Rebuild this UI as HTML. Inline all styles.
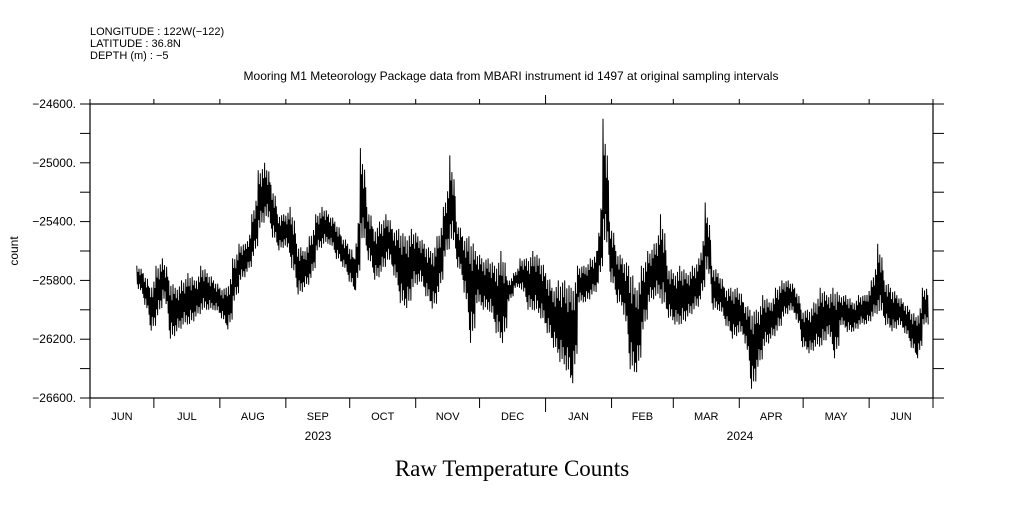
<!DOCTYPE html>
<html><head><meta charset="utf-8"><style>
body{margin:0;background:#fff;width:1009px;height:504px;overflow:hidden}
svg text{font-family:"Liberation Sans",sans-serif;fill:#000}
</style></head><body>
<svg id="chart" width="1009" height="504" viewBox="0 0 1009 504" xmlns="http://www.w3.org/2000/svg">
<g font-size="11">
<text x="90" y="35">LONGITUDE : 122W(−122)</text>
<text x="90" y="47">LATITUDE : 36.8N</text>
<text x="90" y="59">DEPTH (m) : −5</text>
</g>
<text x="511" y="80" text-anchor="middle" font-size="12">Mooring M1 Meteorology Package data from MBARI instrument id 1497 at original sampling intervals</text>
<text x="512" y="476" text-anchor="middle" font-size="23" style="font-family:'Liberation Serif',serif">Raw Temperature Counts</text>
<text transform="translate(18,251) rotate(-90)" text-anchor="middle" font-size="12">count</text>
<g id="axes"></g>
<g id="series"></g>
</svg>
<script>
const yTickValues=[-24600,-25000,-25400,-25800,-26200,-26600];
const monthLabels=["JUN","JUL","AUG","SEP","OCT","NOV","DEC","JAN","FEB","MAR","APR","MAY","JUN"];
const monthStartDays=[0,30,61,92,122,153,183,214,245,274,305,335,366,396];
const yearLabels=["2023","2024"];
const seriesStartDay=22;
const seriesStepDays=3;
const highValues=[-25700,-25750,-25850,-25700,-25650,-25800,-25850,-25800,-25750,-25800,-25700,-25750,-25800,-25850,-25850,-25650,-25550,-25550,-25350,-25050,-25000,-25150,-25350,-25350,-25300,-25550,-25600,-25500,-25350,-25300,-25350,-25400,-25500,-25550,-25650,-24900,-25300,-25450,-25400,-25350,-25450,-25450,-25500,-25450,-25500,-25550,-25600,-25500,-25300,-24950,-25400,-25500,-25500,-25600,-25650,-25650,-25700,-25600,-25800,-25750,-25650,-25650,-25600,-25650,-25750,-25850,-25800,-25800,-25850,-25700,-25700,-25650,-25600,-24700,-25400,-25600,-25650,-25700,-25850,-25700,-25600,-25550,-25350,-25700,-25750,-25700,-25750,-25700,-25650,-25270,-25700,-25750,-25850,-25850,-25850,-25950,-26000,-26000,-25900,-25950,-25850,-25800,-25800,-25850,-26000,-26000,-25950,-25850,-25900,-25850,-25900,-25900,-25950,-25900,-25900,-25800,-25550,-25800,-25850,-25900,-25950,-26000,-26050,-25850];
const lowValues=[-25850,-25950,-26150,-26050,-25900,-26200,-26150,-26100,-26100,-26050,-26000,-26000,-26000,-26050,-26150,-25950,-25800,-25750,-25650,-25450,-25350,-25500,-25600,-25550,-25700,-25900,-25850,-25800,-25600,-25550,-25550,-25650,-25700,-25800,-25900,-25500,-25650,-25800,-25750,-25650,-25750,-25950,-26000,-25850,-25800,-25900,-26000,-25900,-25650,-25500,-25700,-25850,-26250,-25950,-26000,-26000,-26150,-26250,-25950,-25850,-25850,-26000,-26000,-26050,-26150,-26250,-26350,-26400,-26550,-25950,-25950,-25900,-25850,-25500,-25800,-25950,-26000,-26400,-26450,-26150,-25950,-25900,-25950,-26050,-26100,-26100,-26050,-26000,-25950,-25700,-26000,-26000,-26100,-26200,-26150,-26200,-26550,-26400,-26250,-26200,-26150,-26050,-26000,-26050,-26250,-26300,-26250,-26250,-26150,-26350,-26100,-26150,-26150,-26100,-26100,-26050,-26000,-26100,-26150,-26100,-26150,-26250,-26350,-26100];

const L=90,R=933,T=104,B=398,Y0=-24600,Y1=-26600,D=396;
const xs=d=>L+(R-L)*d/D;
const ys=v=>T+(B-T)*(v-Y0)/(Y1-Y0);
const NS="http://www.w3.org/2000/svg";
const axes=document.getElementById('axes');
function mk(tag,attrs,parent){const e=document.createElementNS(NS,tag);for(const k in attrs)e.setAttribute(k,attrs[k]);parent.appendChild(e);return e;}
const frame=mk('rect',{x:L,y:T,width:R-L,height:B-T,fill:'none',stroke:'#000','stroke-width':1.2},axes);


for(let v=Y0;v>=Y1;v-=200){
  const y=ys(v);
  const t1=mk('line',{x1:L-10,x2:L,y1:y,y2:y,stroke:'#000'},axes);
  
  
  const t2=mk('line',{x1:R,x2:R+11,y1:y,y2:y,stroke:'#000'},axes);
  
  
}
yTickValues.forEach(v=>{
  const t=mk('text',{x:76,y:ys(v)+4,'text-anchor':'end','font-size':12},axes);
  t.textContent='−'+Math.abs(v)+'.';
  
  
});
monthStartDays.forEach((d,i)=>{
  const x=xs(d);const yr=(d===214);
  const b=mk('line',{x1:x,x2:x,y1:B,y2:B+(yr?14:10),stroke:'#000'},axes);
  
  
  const t=mk('line',{x1:x,x2:x,y1:T,y2:T-(yr?9:5),stroke:'#000'},axes);
  
  
});
monthLabels.forEach((m,i)=>{
  const x=(xs(monthStartDays[i])+xs(monthStartDays[i+1]))/2;
  const t=mk('text',{x:x,y:420,'text-anchor':'middle','font-size':11},axes);
  t.textContent=m;
  
  
});
yearLabels.forEach((yl,i)=>{
  const t=mk('text',{x:i===0?318:740,y:440,'text-anchor':'middle','font-size':12},axes);
  t.textContent=yl;
  
  
});
const ser=document.getElementById('series');
const pHi=[1,0.5,0.85,0.35,0.95,0.6];
const pLo=[0.7,1,0.45,0.9,0.6,1];
let pts=[];
const N=highValues.length;
for(let i=0;i<N;i++){
  const n=pHi.length;
  for(let j=0;j<n;j++){
    const t=j/n;
    const k=Math.min(i+1,N-1);
    const w=j===0?0:t*0.5;
    const hi=highValues[i]*(1-w)+highValues[k]*w;
    const lo=lowValues[i]*(1-w)+lowValues[k]*w;
    const mid=(hi+lo)/2;
    const dd=seriesStartDay+i*seriesStepDays+seriesStepDays*t;
    pts.push(xs(dd).toFixed(1)+','+ys(mid+(hi-mid)*pHi[j]).toFixed(1));
    pts.push(xs(dd+seriesStepDays/(2*n)).toFixed(1)+','+ys(mid+(lo-mid)*pLo[j]).toFixed(1));
  }
}
const pl=mk('polyline',{points:pts.join(' '),fill:'none',stroke:'#000','stroke-width':1},ser);


</script>
</body></html>
